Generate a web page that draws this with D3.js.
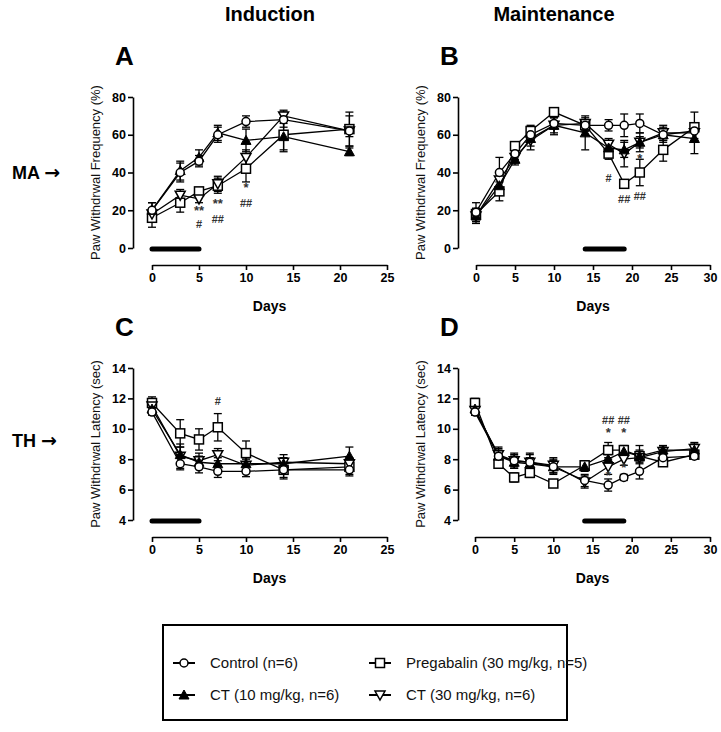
<!DOCTYPE html>
<html><head><meta charset="utf-8">
<script src="https://cdn.jsdelivr.net/npm/d3@7"></script>
<style>body{margin:0;background:#fff}svg{display:block}text{font-family:"Liberation Sans",Arial,sans-serif}</style>
</head><body><svg id="c" width="721" height="732"></svg>
<script>
// ---------- DATA ----------
const daysInd = [0,3,5,7,10,14,21];
const daysMnt = [0,3,5,7,10,14,17,19,21,24,28];
const seriesNames = ["Control (n=6)","Pregabalin (30 mg/kg, n=5)","CT (10 mg/kg, n=6)","CT (30 mg/kg, n=6)"];

// Panel A: MA induction (%)
const A_control = [20,40,46,60,67,68,62];   const A_controlErr = [4,5,3,4,3,4,8];
const A_ct10    = [20,41,48,61,57,59,51];   const A_ct10Err    = [4,5,4,4,6,7,2];
const A_preg    = [16,24,30,33,42,60,63];   const A_pregErr    = [5,5,2,4,7,9,9];
const A_ct30    = [18,28,26,34,48,70,62];   const A_ct30Err    = [3,3,2,4,4,3,3];
// Panel B: MA maintenance (%)
const B_control = [19,40,50,60,66,65,65,65,66,60,62]; const B_controlErr = [5,8,3,4,3,3,3,6,5,4,4];
const B_ct10    = [17,33,47,58,65,61,53,52,56,60,58]; const B_ct10Err    = [4,4,3,4,4,9,3,4,3,3,8];
const B_preg    = [18,30,54,62,72,65,50,34,40,52,64]; const B_pregErr    = [3,5,2,3,2,3,3,1,7,6,8];
const B_ct30    = [17,36,48,57,65,66,55,50,56,61,61]; const B_ct30Err    = [3,4,3,5,5,3,3,7,5,4,4];
// Panel C: TH induction (sec)
const C_control = [11.1,7.7,7.5,7.2,7.2,7.3,7.3];   const C_controlErr = [0.2,0.4,0.4,0.4,0.35,0.5,0.4];
const C_ct10    = [11.3,8.3,7.8,7.7,7.7,7.7,8.2];   const C_ct10Err    = [0.3,0.5,0.4,0.4,0.4,0.4,0.6];
const C_preg    = [11.7,9.7,9.3,10.1,8.4,7.3,7.5];  const C_pregErr    = [0.4,0.9,0.7,0.9,0.8,0.6,0.5];
const C_ct30    = [11.5,8.2,7.9,8.3,7.6,7.8,7.7];   const C_ct30Err    = [0.3,0.8,0.5,0.4,0.4,0.5,0.4];
// Panel D: TH maintenance (sec)
const D_control = [11.1,8.2,7.9,7.8,7.5,6.6,6.3,6.8,7.2,8.1,8.2]; const D_controlErr = [0.2,0.5,0.4,0.5,0.5,0.4,0.4,0.2,0.5,0.3,0.2];
const D_ct10    = [11.3,8.2,7.8,7.7,7.5,7.5,8.0,8.5,8.2,8.6,8.6]; const D_ct10Err    = [0.3,0.4,0.4,0.4,0.4,0.3,0.3,0.3,0.4,0.3,0.4];
const D_preg    = [11.7,7.7,6.8,7.1,6.4,7.6,8.6,8.6,8.2,7.8,8.3]; const D_pregErr    = [0.3,0.3,0.3,0.3,0.2,0.3,0.5,0.3,0.3,0.2,0.3];
const D_ct30    = [11.2,8.3,7.9,7.8,7.6,6.5,7.5,8.0,8.1,8.5,8.7];  const D_ct30Err    = [0.3,0.5,0.5,0.6,0.5,0.4,0.5,0.4,0.8,0.3,0.4];

// significance marks [day, value, text]
const A_marks = [[5,19.5,"**"],[5,12.5,"#"],[7,23.5,"**"],[7,15.5,"##"],[10,32,"*"],[10,24,"##"]];
const B_marks = [[17,37,"#"],[19,26,"##"],[21,27.5,"##"],[21,47,"*"]];
const C_marks = [[7,11.8,"#"]];
const D_marks = [[17,10.6,"##"],[17,9.7,"*"],[17,6.9,"*"],[19,10.6,"##"],[19,9.7,"*"],[19,7.4,"*"]];

// treatment periods [start, end]
const A_period = [0,5], B_period = [14,19], C_period = [0,5], D_period = [14,19];

const xTicksInd = [0,5,10,15,20,25];
const xTicksMnt = [0,5,10,15,20,25,30];
const yTicksMA = [0,20,40,60,80];
const yTicksTH = [4,6,8,10,12,14];

// ---------- DRAW ----------
const svg = d3.select("#c");
const F = '"Liberation Sans",Arial,sans-serif';

function marker(g, type, x, y){
  if(type==="circle"){
    g.append("circle").attr("cx",x).attr("cy",y).attr("r",4).attr("fill","#fff").attr("stroke","#000").attr("stroke-width",1.5);
  } else if(type==="square"){
    g.append("rect").attr("x",x-4.5).attr("y",y-4.5).attr("width",9).attr("height",9).attr("fill","#fff").attr("stroke","#000").attr("stroke-width",1.5);
  } else if(type==="triUp"){
    g.append("path").attr("d",`M${x},${y-5}L${x+5},${y+4}L${x-5},${y+4}Z`).attr("fill","#000").attr("stroke","#000").attr("stroke-width",1);
  } else {
    g.append("path").attr("d",`M${x-5},${y-4}L${x+5},${y-4}L${x},${y+5}Z`).attr("fill","#fff").attr("stroke","#000").attr("stroke-width",1.5);
  }
}

function panel(opt){
  const g = svg.append("g");
  const x = d3.scaleLinear().domain(opt.xDomain).range(opt.xRange);
  const y = d3.scaleLinear().domain(opt.yDomain).range(opt.yRange);
  const ya = g.append("g").attr("transform",`translate(${opt.yAxisX},0)`)
    .call(d3.axisLeft(y).tickValues(opt.yTicks).tickSize(5).tickPadding(2).tickSizeOuter(0));
  const xa = g.append("g").attr("transform",`translate(0,${opt.xAxisY})`)
    .call(d3.axisBottom(x).tickValues(opt.xTicks).tickSize(5).tickPadding(3).tickSizeOuter(0));
  [ya,xa].forEach(a=>{
    a.select(".domain").attr("stroke","#000").attr("stroke-width",1.6);
    a.selectAll(".tick line").attr("stroke","#000").attr("stroke-width",1.6);
    a.selectAll(".tick text").attr("font-family",F).attr("font-size",12.5).attr("font-weight","bold").attr("fill","#000");
  });
  g.append("text").attr("transform",`translate(${opt.yAxisX-33},${(opt.yRange[0]+opt.yRange[1])/2}) rotate(-90)`)
    .attr("text-anchor","middle").attr("font-size",13).attr("fill","#111").text(opt.yTitle);
  g.append("text").attr("x",(opt.xRange[0]+opt.xRange[1])/2).attr("y",opt.xAxisY+46)
    .attr("text-anchor","middle").attr("font-size",14).attr("font-weight","bold").text("Days");
  g.append("text").attr("x",opt.yAxisX-18).attr("y",opt.yRange[1]-32).attr("font-size",26).attr("font-weight","bold").text(opt.letter);
  g.append("line").attr("x1",x(opt.period[0])).attr("x2",x(opt.period[1]))
    .attr("y1",y(opt.yDomain[0])+1).attr("y2",y(opt.yDomain[0])+1)
    .attr("stroke","#000").attr("stroke-width",5).attr("stroke-linecap","round");
  const line = d3.line().x((d,i)=>x(opt.days[i])).y(d=>y(d));
  opt.series.forEach(s=>{
    g.append("path").datum(s.v).attr("d",line).attr("fill","none").attr("stroke","#000").attr("stroke-width",1.3);
  });
  opt.series.forEach(s=>{
    s.v.forEach((v,i)=>{
      const cx = x(opt.days[i]), e = s.e[i];
      g.append("line").attr("x1",cx).attr("x2",cx).attr("y1",y(v-e)).attr("y2",y(v+e)).attr("stroke","#000").attr("stroke-width",1.3);
      [v-e,v+e].forEach(t=>g.append("line").attr("x1",cx-4).attr("x2",cx+4).attr("y1",y(t)).attr("y2",y(t)).attr("stroke","#000").attr("stroke-width",1.3));
    });
  });
  opt.series.forEach(s=>{
    s.v.forEach((v,i)=>marker(g,s.type,x(opt.days[i]),y(v)));
  });
  opt.marks.forEach(m=>{
    g.append("text").attr("x",x(m[0])).attr("y",y(m[1])+4).attr("text-anchor","middle")
      .attr("font-size",m[2].startsWith("*")?13:11).attr("font-weight","bold").attr("fill","#333").text(m[2]);
  });
}

panel({letter:"A",days:daysInd,xDomain:[0,25],xRange:[152,387],yDomain:[0,80],yRange:[248,97],yAxisX:133,xAxisY:265,
  xTicks:xTicksInd,yTicks:yTicksMA,yTitle:"Paw Withdrwal Frequency (%)",period:A_period,marks:A_marks,
  series:[{type:"square",v:A_preg,e:A_pregErr},{type:"triDown",v:A_ct30,e:A_ct30Err},{type:"triUp",v:A_ct10,e:A_ct10Err},{type:"circle",v:A_control,e:A_controlErr}]});
panel({letter:"B",days:daysMnt,xDomain:[0,30],xRange:[476,710],yDomain:[0,80],yRange:[248,97],yAxisX:458,xAxisY:265,
  xTicks:xTicksMnt,yTicks:yTicksMA,yTitle:"Paw Withdrwal Frequency (%)",period:B_period,marks:B_marks,
  series:[{type:"square",v:B_preg,e:B_pregErr},{type:"triDown",v:B_ct30,e:B_ct30Err},{type:"triUp",v:B_ct10,e:B_ct10Err},{type:"circle",v:B_control,e:B_controlErr}]});
panel({letter:"C",days:daysInd,xDomain:[0,25],xRange:[152,387],yDomain:[4,14],yRange:[520,368],yAxisX:133,xAxisY:537,
  xTicks:xTicksInd,yTicks:yTicksTH,yTitle:"Paw Withdrwal Latency (sec)",period:C_period,marks:C_marks,
  series:[{type:"square",v:C_preg,e:C_pregErr},{type:"triDown",v:C_ct30,e:C_ct30Err},{type:"triUp",v:C_ct10,e:C_ct10Err},{type:"circle",v:C_control,e:C_controlErr}]});
panel({letter:"D",days:daysMnt,xDomain:[0,30],xRange:[475,710],yDomain:[4,14],yRange:[520,368],yAxisX:458,xAxisY:537,
  xTicks:xTicksMnt,yTicks:yTicksTH,yTitle:"Paw Withdrwal Latency (sec)",period:D_period,marks:D_marks,
  series:[{type:"square",v:D_preg,e:D_pregErr},{type:"triDown",v:D_ct30,e:D_ct30Err},{type:"triUp",v:D_ct10,e:D_ct10Err},{type:"circle",v:D_control,e:D_controlErr}]});

svg.append("text").attr("x",270).attr("y",21).attr("text-anchor","middle").attr("font-size",20).attr("font-weight","bold").text("Induction");
svg.append("text").attr("x",554).attr("y",21).attr("text-anchor","middle").attr("font-size",20).attr("font-weight","bold").text("Maintenance");
[["MA",179],["TH",447]].forEach(r=>{
  const t = svg.append("text").attr("x",12).attr("y",r[1]).attr("font-size",18).attr("font-weight","bold");
  t.append("tspan").text(r[0]+" ");
  t.append("tspan").attr("font-family","DejaVu Sans").attr("font-size",19).text("\u2192");
});

const lg = svg.append("g");
lg.append("rect").attr("x",163).attr("y",625).attr("width",404).attr("height",95).attr("fill","none").attr("stroke","#000").attr("stroke-width",2);
const legendPos = [[184,663,"circle"],[380,663,"square"],[184,695,"triUp"],[380,695,"triDown"]];
legendPos.forEach((p,i)=>{
  lg.append("line").attr("x1",p[0]-11).attr("x2",p[0]+11).attr("y1",p[1]).attr("y2",p[1]).attr("stroke","#000").attr("stroke-width",2);
  marker(lg,p[2],p[0],p[1]);
  lg.append("text").attr("x",p[0]+26).attr("y",p[1]+5).attr("font-size",15).attr("fill","#111").text(seriesNames[i]);
});
</script></body></html>
